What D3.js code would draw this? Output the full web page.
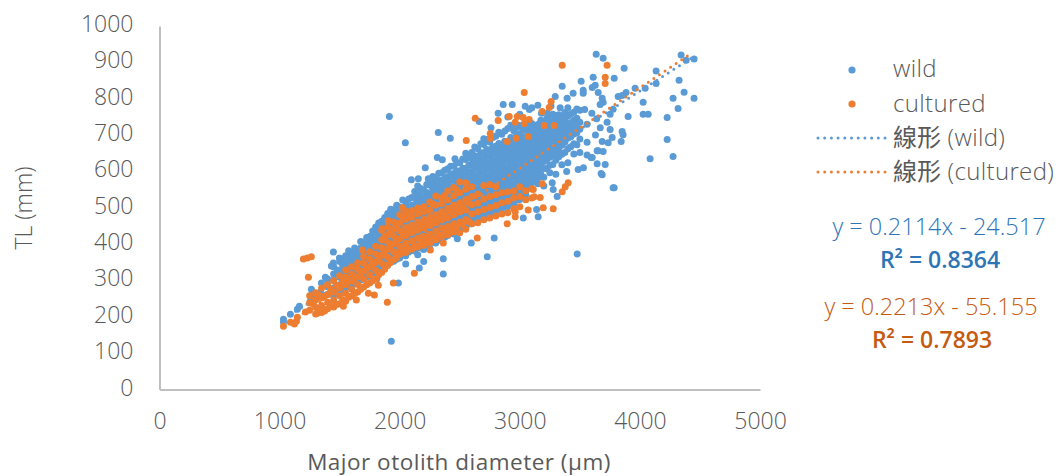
<!DOCTYPE html>
<html>
<head>
<meta charset="utf-8">
<script src="https://cdn.jsdelivr.net/npm/d3@7"></script>
<style>
  html, body { margin: 0; padding: 0; background: #fff; }
  text { font-family: "Open Sans", "Noto Sans CJK TC", sans-serif; fill: #595959; }
</style>
</head>
<body>
<svg id="chart" width="1062" height="476"></svg>
<script>
// values: [x, [y, y, ...]] for the dense band, [x, y] for loose points
const wildBand = [
  [1400, [262, 283, 304]],
  [1450, [258, 279, 301, 318, 338]],
  [1500, [271, 288, 309, 327, 352]],
  [1550, [279, 296, 314, 333, 351, 368]],
  [1600, [283, 304, 322, 338, 357, 376]],
  [1650, [292, 311, 329, 346, 364, 384]],
  [1700, [304, 322, 339, 358, 375, 392, 405]],
  [1750, [312, 331, 349, 368, 384, 403, 421]],
  [1800, [322, 340, 357, 376, 393, 412, 431, 447]],
  [1850, [334, 352, 369, 388, 406, 423, 441, 463]],
  [1900, [342, 361, 379, 397, 414, 433, 451, 470, 484]],
  [1950, [353, 370, 388, 405, 424, 442, 459, 478, 494]],
  [2000, [362, 380, 398, 416, 433, 452, 470, 488, 502]],
  [2050, [368, 389, 407, 425, 443, 461, 479, 497, 515]],
  [2100, [383, 398, 416, 434, 453, 471, 489, 507, 528]],
  [2150, [371, 390, 409, 427, 445, 463, 482, 500, 518, 540]],
  [2200, [385, 401, 419, 437, 455, 474, 492, 510, 528, 549]],
  [2250, [390, 410, 428, 446, 465, 483, 501, 519, 537, 562]],
  [2300, [403, 421, 439, 457, 475, 493, 511, 529, 548, 566, 581]],
  [2350, [409, 430, 448, 466, 484, 503, 521, 539, 557, 575, 596]],
  [2400, [424, 441, 459, 477, 495, 513, 531, 549, 567, 585, 607]],
  [2450, [428, 449, 467, 485, 503, 521, 539, 557, 576, 594, 615]],
  [2500, [438, 456, 474, 492, 510, 528, 547, 565, 583, 601, 624]],
  [2550, [444, 463, 481, 499, 517, 536, 554, 572, 590, 608, 633]],
  [2600, [456, 473, 491, 509, 527, 545, 563, 581, 599, 617, 635, 652]],
  [2650, [462, 480, 498, 516, 534, 552, 570, 588, 606, 624, 642, 662]],
  [2700, [472, 489, 507, 525, 543, 561, 579, 597, 615, 633, 651, 674]],
  [2750, [479, 497, 515, 533, 551, 569, 587, 605, 623, 641, 659, 681]],
  [2800, [491, 507, 525, 543, 561, 579, 597, 615, 633, 651, 669, 697]],
  [2850, [488, 511, 529, 547, 565, 583, 601, 619, 637, 655, 673, 702]],
  [2900, [503, 519, 537, 555, 573, 591, 609, 627, 645, 663, 681, 718]],
  [2950, [511, 529, 547, 565, 583, 601, 619, 637, 655, 673, 691, 712]],
  [3000, [523, 541, 559, 577, 595, 613, 631, 649, 667, 685, 703, 726]],
  [3050, [536, 552, 570, 588, 606, 624, 642, 660, 678, 696, 718]],
  [3100, [552, 569, 587, 605, 623, 641, 659, 677, 695, 713, 732]],
  [3150, [566, 581, 605, 622, 640, 658, 676, 694, 712, 729]],
  [3200, [584, 608, 627, 645, 663, 681, 699, 717, 738]],
  [3250, [596, 617, 639, 657, 675, 693, 711, 729, 745]],
  [3300, [592, 631, 652, 668, 686, 704, 722, 740, 754]],
  [3350, [618, 647, 672, 690, 708, 726, 748]],
  [3400, [624, 662, 691, 712, 730, 752]],
  [3450, [648, 676, 703, 722, 741, 763]],
  [3500, [652, 689, 716, 735, 768]]
]
// second pass over the same band, the points sitting between the first ones
const wildBandInner = [
  [1525, [288, 305, 322, 342, 359]],
  [1575, [291, 312, 329, 347, 366, 382]],
  [1625, [296, 315, 333, 351, 369, 389]],
  [1675, [301, 318, 336, 353, 371, 389, 407]],
  [1725, [310, 328, 347, 365, 383, 401, 418]],
  [1775, [321, 340, 358, 377, 394, 413, 436]],
  [1825, [329, 348, 366, 385, 403, 421, 439, 458]],
  [1875, [341, 360, 378, 396, 414, 432, 450, 473]],
  [1925, [350, 369, 387, 405, 423, 441, 459, 477, 496]],
  [1975, [358, 376, 394, 412, 431, 449, 467, 485, 507]],
  [2025, [372, 390, 408, 426, 444, 462, 480, 498, 521]],
  [2075, [378, 396, 414, 432, 450, 468, 486, 504, 524]],
  [2125, [381, 400, 418, 436, 454, 472, 490, 508, 526, 545]],
  [2175, [389, 407, 425, 443, 461, 479, 497, 515, 533, 553]],
  [2225, [398, 416, 434, 452, 470, 488, 506, 524, 542, 564]],
  [2275, [406, 424, 442, 460, 478, 496, 514, 532, 550, 568, 586]],
  [2325, [415, 433, 451, 469, 487, 505, 523, 541, 559, 577, 595]],
  [2375, [419, 438, 456, 474, 492, 510, 528, 546, 564, 582, 603]],
  [2425, [431, 449, 467, 485, 503, 521, 539, 557, 575, 593, 614]],
  [2475, [439, 458, 476, 494, 512, 530, 548, 566, 584, 602, 623]],
  [2525, [447, 465, 483, 501, 519, 537, 555, 573, 591, 609, 634]],
  [2575, [455, 473, 491, 509, 527, 545, 563, 581, 599, 617, 644]],
  [2625, [463, 481, 499, 517, 535, 553, 571, 589, 607, 625, 643, 667]],
  [2675, [471, 489, 507, 525, 543, 561, 579, 597, 615, 633, 651, 676]],
  [2725, [481, 498, 516, 534, 552, 570, 588, 606, 624, 642, 660, 688]],
  [2775, [487, 505, 523, 541, 559, 577, 595, 613, 631, 649, 667, 693]],
  [2825, [497, 515, 533, 551, 569, 587, 605, 623, 641, 659, 677, 708]],
  [2875, [503, 521, 539, 557, 575, 593, 611, 629, 647, 665, 683, 711]],
  [2925, [513, 531, 549, 567, 585, 603, 621, 639, 657, 675, 693, 727]],
  [2975, [521, 539, 557, 575, 593, 611, 629, 647, 665, 683, 701, 721]],
  [3025, [531, 549, 567, 585, 603, 621, 639, 657, 675, 693, 713]],
  [3075, [561, 578, 596, 614, 632, 650, 668, 686, 704, 728]],
  [3125, [574, 596, 614, 632, 650, 668, 686, 704, 724]],
  [3175, [592, 612, 631, 649, 667, 685, 703, 721, 741]],
  [3225, [608, 632, 650, 668, 686, 704, 722, 746]],
  [3275, [619, 644, 662, 680, 698, 716, 734, 757]],
  [3325, [640, 662, 680, 698, 716, 734, 756]],
  [3375, [652, 680, 700, 718, 740, 762]],
  [3425, [668, 695, 716, 734, 758]],
  [3475, [673, 706, 726, 746, 772]]
]
const wildLoose = [
  [1032, 185], [1032, 193], [1090, 207], [1148, 221], [1165, 229], [1256, 243], [1265, 260], [1265, 276],
  [1348, 293], [1381, 309], [1398, 301], [1431, 340], [1448, 348], [1448, 378], [1481, 329], [1498, 362],
  [1300, 255], [1340, 268], [1764, 423], [1864, 456], [1930, 133], [1914, 751], [1955, 489], [2047, 679],
  [2097, 577], [2155, 580], [2163, 334], [1989, 293], [2213, 610], [2238, 580], [2313, 638], [2355, 632],
  [2321, 707], [2421, 691], [2363, 318], [2363, 360], [2662, 737], [2729, 365], [2787, 417], [2820, 760],
  [2862, 784], [2937, 784], [2700, 690], [2760, 720], [2900, 750], [3000, 757], [3080, 770], [3150, 782],
  [3295, 806], [3353, 834], [3394, 801], [3444, 815], [3478, 373], [3511, 848], [3528, 823], [3528, 815],
  [3594, 638], [3603, 831], [3603, 638], [3611, 859], [3628, 837], [3636, 922], [3644, 657], [3644, 621],
  [3653, 817], [3653, 657], [3669, 784], [3677, 594], [3686, 801], [3686, 682], [3686, 591], [3694, 911],
  [3694, 790], [3694, 655], [3711, 619], [3727, 735], [3736, 679], [3752, 757], [3752, 715], [3769, 693],
  [3777, 771], [3777, 555], [3786, 856], [3786, 555], [3819, 806], [3844, 682], [3852, 809], [3852, 710],
  [3860, 701], [3869, 884], [3885, 817], [3902, 751], [3560, 730], [3600, 760], [3630, 700], [3560, 680],
  [3960, 829], [4027, 790], [4027, 757], [4044, 829], [4069, 757], [4085, 635], [4135, 876], [4135, 842],
  [4227, 748], [4227, 688], [4276, 801], [4276, 641], [4318, 773], [4326, 851], [4343, 920], [4368, 818],
  [4385, 906], [4451, 909], [4451, 801], [3640, 745], [3670, 720], [3540, 770], [3530, 610], [3560, 645],
  [3029, 472], [3153, 475], [3140, 495], [3311, 531], [3486, 605], [3270, 569], [3278, 550], [2596, 403],
  [3045, 779], [3100, 775], [3180, 760], [3230, 760], [3336, 775], [3400, 775], [3260, 780], [2480, 415],
  [2200, 352], [2050, 345], [1810, 305], [3200, 560], [3390, 600], [2550, 650], [2460, 635], [2150, 560]
]
const culturedBand = [
  [1250, [218, 238, 258]],
  [1300, [208, 226, 247, 266]],
  [1350, [212, 231, 252, 279]],
  [1400, [222, 240, 261, 288]],
  [1450, [227, 246, 268, 299]],
  [1500, [236, 258, 279, 313]],
  [1550, [243, 265, 288, 309, 329]],
  [1600, [257, 276, 298, 318, 338]],
  [1650, [268, 289, 310, 331, 349]],
  [1700, [282, 305, 326, 347, 366]],
  [1750, [293, 316, 338, 359, 379]],
  [1800, [304, 328, 351, 373, 394]],
  [1850, [322, 347, 369, 390, 411, 438]],
  [1900, [342, 364, 386, 405, 426, 447]],
  [1950, [357, 379, 401, 422, 441, 461]],
  [2000, [372, 394, 415, 437, 458, 481]],
  [2050, [377, 402, 423, 446, 468, 491]],
  [2100, [386, 409, 431, 452, 474, 492]],
  [2150, [392, 416, 438, 461, 483, 499]],
  [2200, [397, 421, 444, 468, 488, 503]],
  [2250, [403, 427, 451, 474, 493, 516]],
  [2300, [412, 436, 458, 481, 507, 532]],
  [2350, [421, 444, 466, 489, 512, 527]],
  [2400, [426, 449, 472, 498, 521, 546]],
  [2450, [433, 456, 481, 507, 533, 556]],
  [2500, [431, 461, 488, 514, 541, 571]],
  [2550, [441, 468, 494, 523, 551, 569]],
  [2600, [456, 483, 508, 531, 558]],
  [2650, [459, 489, 513, 538]],
  [2700, [467, 495, 524, 561]],
  [2750, [472, 501, 531, 564]],
  [2800, [477, 506, 536, 558]],
  [2850, [483, 514, 541]],
  [2900, [486, 518, 544]],
  [2950, [497, 527, 546]],
  [3000, [503, 531, 558]],
  [3050, [522, 547]],
  [3100, [527, 552]]
]
// orange points between the columns above, only where the reference is thickest
const culturedBandInner = [
  [1325, [219, 259]],
  [1375, [216, 257]],
  [1425, [231, 276]],
  [1475, [234, 287]],
  [1525, [247, 296]],
  [1575, [254, 300]],
  [1625, [264, 307]],
  [1675, [276, 320]],
  [1725, [288, 333]],
  [1775, [299, 345]],
  [1825, [316, 360]],
  [1875, [331, 378, 421]],
  [1925, [350, 394, 437]],
  [1975, [364, 409, 452]],
  [2025, [384, 429, 474]],
  [2075, [388, 436, 480]],
  [2125, [396, 443]],
  [2175, [405, 452, 494]],
  [2225, [411, 458]],
  [2275, [418, 466, 510]],
  [2325, [425, 472]],
  [2375, [433, 480, 534]],
  [2425, [441, 490]],
  [2475, [446, 498, 549]],
  [2525, [453, 504]],
  [2575, [462, 514]]
]
const culturedLoose = [
  [1032, 174], [1090, 185], [1123, 180], [1140, 188], [1148, 199], [1198, 359], [1215, 213], [1231, 362],
  [1240, 309], [1264, 365], [1281, 235], [1315, 210], [1531, 229], [1639, 246], [1689, 384], [1739, 265],
  [1789, 260], [1822, 287], [1855, 442], [1897, 240], [1905, 464], [1947, 293], [2022, 500], [2122, 320],
  [2255, 384], [2363, 403], [2554, 685], [2629, 746], [2646, 417], [2754, 704], [2754, 691], [2820, 740],
  [2895, 682], [2895, 456], [2912, 751], [2962, 735], [2962, 489], [2962, 475], [2970, 691], [2979, 751],
  [3028, 748], [3037, 817], [3037, 732], [3070, 696], [3070, 494], [3078, 743], [3112, 550], [3120, 530],
  [3170, 528], [3186, 765], [3186, 566], [3195, 500], [3203, 726], [3245, 776], [3261, 792], [3278, 497],
  [3286, 726], [3353, 892], [3353, 544], [3378, 558], [3403, 569], [3711, 859], [3711, 842], [3727, 892]
]
const wildTrendX = [1040, 4470]
const culturedTrendX = [1150, 4420]
const wildFit = { slope: 0.2114, intercept: -24.517 }
const culturedFit = { slope: 0.2213, intercept: -55.155 }
const xTicks = [0, 1000, 2000, 3000, 4000, 5000]
const yTicks = [0, 100, 200, 300, 400, 500, 600, 700, 800, 900, 1000]

const BLUE = '#5b9bd5'
const ORANGE = '#ed7d31'

const svg = d3.select('#chart')
const x = d3.scaleLinear().domain([0, 5000]).range([159.5, 760])
const y = d3.scaleLinear().domain([0, 1000]).range([389.5, 26])

const flatten = band => band.flatMap(([px, ys]) => ys.map(py => [px, py]))

function renderAxis(g, axis) {
  g.call(axis)
  g.select('.domain').attr('stroke', '#bfbfbf').attr('stroke-width', 2)
  g.selectAll('text').attr('font-size', 23).attr('font-weight', 300).style('fill', '#595959')
}

svg.append('g')
  .attr('transform', `translate(0,${y(0)})`)
  .call(g => renderAxis(g, d3.axisBottom(x).tickValues(xTicks).tickSize(0).tickPadding(23).tickFormat(d3.format('d'))))

svg.append('g')
  .attr('transform', `translate(${x(0)},0)`)
  .call(g => renderAxis(g, d3.axisLeft(y).tickValues(yTicks).tickSize(0).tickPadding(26).tickFormat(d3.format('d'))))
  .call(g => g.selectAll('text').attr('dy', '0.24em'))

function renderDots(data, color) {
  svg.append('g').selectAll('circle').data(data).enter()
    .append('circle')
    .attr('cx', d => x(d[0]))
    .attr('cy', d => y(d[1]))
    .attr('r', 3.5)
    .attr('fill', color)
}

function renderTrend(xs, fit, color) {
  const line = d3.line().x(d => x(d)).y(d => y(fit.slope * d + fit.intercept))
  svg.append('path')
    .attr('d', line(xs))
    .attr('fill', 'none')
    .attr('stroke', color)
    .attr('stroke-width', 3)
    .attr('stroke-linecap', 'round')
    .attr('stroke-dasharray', '0 6.7')
}

renderDots(flatten(wildBand).concat(flatten(wildBandInner), wildLoose), BLUE)
renderTrend(wildTrendX, wildFit, BLUE)
renderDots(flatten(culturedBand).concat(flatten(culturedBandInner), culturedLoose), ORANGE)
renderTrend(culturedTrendX, culturedFit, ORANGE)

// axis titles
svg.append('text')
  .attr('x', 459).attr('y', 470)
  .attr('text-anchor', 'middle').attr('font-size', 22.5).attr('letter-spacing', 0.5)
  .text('Major otolith diameter (µm)')

svg.append('text')
  .attr('transform', 'translate(32,208) rotate(-90)')
  .attr('text-anchor', 'middle').attr('font-size', 23).attr('font-weight', 300)
  .text('TL (mm)')

// legend
const legendDots = [[852, 70, BLUE], [852, 104, ORANGE]]
svg.append('g').selectAll('circle').data(legendDots).enter()
  .append('circle')
  .attr('cx', d => d[0]).attr('cy', d => d[1]).attr('r', 3.6)
  .attr('fill', d => d[2])

const legendLines = [[138, BLUE], [172, ORANGE]]
svg.append('g').selectAll('line').data(legendLines).enter()
  .append('line')
  .attr('x1', 818).attr('x2', 885)
  .attr('y1', d => d[0]).attr('y2', d => d[0])
  .attr('stroke', d => d[1]).attr('stroke-width', 3)
  .attr('stroke-linecap', 'round').attr('stroke-dasharray', '0 6.7')

const legendLabels = [['', 'wild', 77], ['', 'cultured', 112], ['線形', ' (wild)', 146], ['線形', ' (cultured)', 180]]
const legendText = svg.append('g').selectAll('text').data(legendLabels).enter()
  .append('text')
  .attr('x', 893).attr('y', d => d[2])
  .attr('font-size', 24).attr('font-weight', 300)
  .attr('xml:space', 'preserve')
legendText.append('tspan').attr('font-weight', 400).text(d => d[0])
legendText.append('tspan').attr('letter-spacing', 0.35).text(d => d[1])

// trendline labels
const fitLabels = [
  ['y = 0.2114x - 24.517', 939, 235, '#2e75b6', 300],
  ['R² = 0.8364', 940, 268, '#2e75b6', 600],
  ['y = 0.2213x - 55.155', 931, 315, '#c55a11', 300],
  ['R² = 0.7893', 932, 348, '#c55a11', 600]
]
svg.append('g').selectAll('text').data(fitLabels).enter()
  .append('text')
  .attr('x', d => d[1]).attr('y', d => d[2])
  .attr('text-anchor', 'middle')
  .attr('font-size', d => d[4] === 300 ? 23.5 : 23)
  .attr('font-weight', d => d[4])
  .style('fill', d => d[3])
  .text(d => d[0])
</script>
</body>
</html>
